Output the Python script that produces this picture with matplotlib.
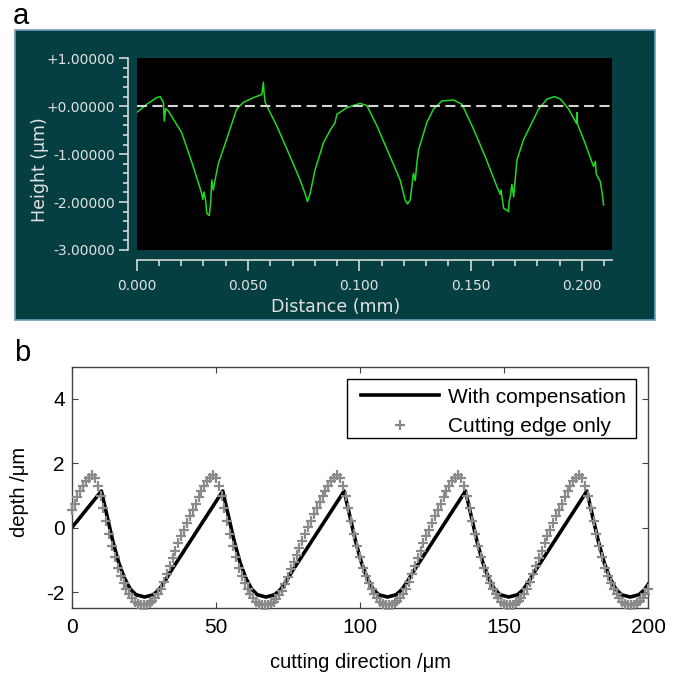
# Surface profile of the machined grating (a) and simulated depth profiles (b)

import numpy as np
import matplotlib
matplotlib.use("Agg")
import matplotlib.pyplot as plt
from matplotlib.patches import Rectangle
from matplotlib.ticker import MultipleLocator, FormatStrFormatter

plt.rcParams['font.family'] = ['Liberation Sans', 'DejaVu Sans']
plt.rcParams['axes.unicode_minus'] = False

# (a) measured profile, distance in mm, height in um
profile_x = [0.0000, 0.0045, 0.0090, 0.0105, 0.0120, 0.0124, 0.0130, 0.0142, 0.0202, 0.0254,
             0.0292, 0.0297, 0.0302, 0.0310, 0.0315, 0.0326, 0.0333, 0.0337, 0.0344, 0.0352,
             0.0367, 0.0404, 0.0449, 0.0479, 0.0524, 0.0554, 0.0562, 0.0569, 0.0572, 0.0577,
             0.0584, 0.0629, 0.0689, 0.0734, 0.0756, 0.0767, 0.0779, 0.0801, 0.0839, 0.0869,
             0.0891, 0.0899, 0.0944, 0.1004, 0.1034, 0.1079, 0.1138, 0.1183, 0.1206, 0.1216,
             0.1228, 0.1243, 0.1251, 0.1258, 0.1266, 0.1303, 0.1333, 0.1371, 0.1423, 0.1461,
             0.1513, 0.1565, 0.1618, 0.1633, 0.1636, 0.1648, 0.1663, 0.1670, 0.1673, 0.1678,
             0.1685, 0.1693, 0.1708, 0.1738, 0.1768, 0.1805, 0.1843, 0.1876, 0.1903, 0.1940,
             0.1975, 0.1977, 0.1980, 0.2007, 0.2052, 0.2060, 0.2064, 0.2082, 0.2090, 0.2097]
profile_h = [-0.13, 0.04, 0.18, 0.20, 0.08, -0.31, -0.05, -0.10, -0.55, -1.26,
             -1.82, -1.95, -1.79, -1.98, -2.24, -2.28, -1.96, -1.54, -1.75, -1.54,
             -1.19, -0.69, -0.06, 0.08, 0.18, 0.23, 0.25, 0.50, 0.28, 0.08,
             0.01, -0.41, -1.05, -1.54, -1.82, -1.99, -1.82, -1.33, -0.76, -0.50,
             -0.34, -0.17, -0.03, 0.06, 0.01, -0.41, -1.05, -1.54, -1.96, -2.04,
             -1.96, -1.40, -1.55, -1.20, -0.91, -0.34, -0.06, 0.11, 0.13, 0.04,
             -0.48, -1.05, -1.68, -1.84, -1.75, -2.13, -2.17, -2.20, -1.97, -1.89,
             -1.63, -1.89, -1.12, -0.69, -0.41, -0.06, 0.15, 0.20, 0.15, -0.06,
             -0.36, -0.13, -0.38, -0.69, -1.26, -1.15, -1.42, -1.57, -1.80, -2.06]

# (b) simulated profile with compensation (vertices of the line)
comp_x = [0.0,
          10.3, 12.3, 14.3, 16.3, 18.3, 20.3, 22.3, 25.3, 28.3, 30.3, 32.3, 34.3,
          52.4, 54.4, 56.4, 58.4, 60.4, 62.4, 64.4, 67.4, 70.4, 72.4, 74.4, 76.4,
          94.5, 96.5, 98.5, 100.5, 102.5, 104.5, 106.5, 109.5, 112.5, 114.5, 116.5, 118.5,
          136.6, 138.6, 140.6, 142.6, 144.6, 146.6, 148.6, 151.6, 154.6, 156.6, 158.6, 160.6,
          178.7, 180.7, 182.7, 184.7, 186.7, 188.7, 190.7, 193.7, 196.7, 198.7, 200.0]
comp_depth = [0.0,
              1.14, 0.35, -0.43, -1.08, -1.56, -1.90, -2.08, -2.15, -2.08, -1.92, -1.66, -1.36,
              1.14, 0.35, -0.43, -1.08, -1.56, -1.90, -2.08, -2.15, -2.08, -1.92, -1.66, -1.36,
              1.14, 0.35, -0.43, -1.08, -1.56, -1.90, -2.08, -2.15, -2.08, -1.92, -1.66, -1.36,
              1.14, 0.35, -0.43, -1.08, -1.56, -1.90, -2.08, -2.15, -2.08, -1.92, -1.66, -1.36,
              1.14, 0.35, -0.43, -1.08, -1.56, -1.90, -2.08, -2.15, -2.08, -1.92, -1.75]

# (b) cutting edge only, one point per micrometre from 0 to 200
edge_depth = [
    0.55, 0.75, 0.95, 1.13, 1.30, 1.44, 1.55,
    1.63, 1.55, 1.30, 0.98, 0.60, 0.20, -0.20, -0.57, -0.92, -1.24, -1.50, -1.72, -1.90, -2.06,
    -2.19, -2.29, -2.36, -2.40, -2.41, -2.39, -2.34, -2.27, -2.17, -2.05, -1.90, -1.68, -1.43,
    -1.18, -0.95, -0.72, -0.48, -0.27, -0.06, 0.15, 0.35, 0.55, 0.75, 0.95, 1.13, 1.30, 1.44, 1.55,
    1.63, 1.55, 1.30, 0.98, 0.60, 0.20, -0.20, -0.57, -0.92, -1.24, -1.50, -1.72, -1.90, -2.06,
    -2.19, -2.29, -2.36, -2.40, -2.41, -2.39, -2.35, -2.29, -2.20, -2.09, -1.95, -1.76, -1.53,
    -1.29, -1.06, -0.84, -0.62, -0.40, -0.19, 0.02, 0.22, 0.42, 0.61, 0.80, 0.98, 1.15, 1.31,
    1.44, 1.54,
    1.63, 1.55, 1.30, 0.98, 0.60, 0.20, -0.20, -0.57, -0.92, -1.24, -1.50, -1.72, -1.90, -2.06,
    -2.19, -2.29, -2.36, -2.40, -2.41, -2.39, -2.34, -2.27, -2.17, -2.05, -1.90, -1.68, -1.43,
    -1.18, -0.95, -0.72, -0.48, -0.27, -0.06, 0.15, 0.35, 0.55, 0.75, 0.95, 1.13, 1.30, 1.44, 1.55,
    1.63, 1.55, 1.30, 0.98, 0.60, 0.20, -0.20, -0.57, -0.92, -1.24, -1.50, -1.72, -1.90, -2.06,
    -2.19, -2.29, -2.36, -2.40, -2.41, -2.39, -2.34, -2.27, -2.17, -2.05, -1.90, -1.68, -1.43,
    -1.18, -0.95, -0.72, -0.48, -0.27, -0.06, 0.15, 0.35, 0.55, 0.75, 0.95, 1.13, 1.30, 1.44, 1.55,
    1.63, 1.55, 1.30, 0.98, 0.60, 0.20, -0.20, -0.57, -0.92, -1.24, -1.50, -1.72, -1.90, -2.06,
    -2.19, -2.29, -2.36, -2.40, -2.41, -2.39, -2.34, -2.27, -2.17, -2.05, -1.90]
edge_x = np.arange(len(edge_depth))

W, H = 675, 678
TEAL = '#053f42'
PALE = '#e2e2e2'


def fx(px):
    return px / W


def fy(py):
    return 1 - py / H


fig = plt.figure(figsize=(W / 100, H / 100), dpi=100)

# ---- panel a: profilometer screen ----
fig.add_artist(Rectangle((fx(15), fy(320)), fx(640), 290 / H, transform=fig.transFigure,
                         facecolor=TEAL, edgecolor='#6c9cbc', lw=1.2, zorder=0))

ax_a = fig.add_axes([fx(136.7), fy(250), fx(475.6), 191.7 / H], facecolor='black')
ax_a.plot(profile_x, profile_h, color='#22d822', lw=1.1)
ax_a.axhline(0, color='#d4d4d4', lw=1.5, dashes=(4.8, 2.6))
ax_a.set_xlim(0, 0.2136)
ax_a.set_ylim(-3, 1)

for side in ['top', 'right']:
    ax_a.spines[side].set_visible(False)
for side, off in [('left', 6), ('bottom', 7.2)]:
    ax_a.spines[side].set_position(('outward', off))
    ax_a.spines[side].set_color('#d8d8d8')
    ax_a.spines[side].set_linewidth(1.2)

ax_a.xaxis.set_major_locator(MultipleLocator(0.05))
ax_a.xaxis.set_minor_locator(MultipleLocator(0.01))
ax_a.yaxis.set_major_locator(MultipleLocator(1))
ax_a.yaxis.set_minor_locator(MultipleLocator(0.2))
ax_a.xaxis.set_major_formatter(FormatStrFormatter('%.3f'))
ax_a.yaxis.set_major_formatter(FormatStrFormatter('%+.5f'))
ax_a.tick_params(axis='both', which='both', direction='out', colors='#d8d8d8',
                 labelcolor=PALE, width=1.2)
ax_a.tick_params(axis='x', which='major', length=8, pad=6)
ax_a.tick_params(axis='x', which='minor', length=4)
ax_a.tick_params(axis='y', which='major', length=6.5, pad=3)
ax_a.tick_params(axis='y', which='minor', length=3.5)
for lab in ax_a.get_xticklabels() + ax_a.get_yticklabels():
    lab.set_family('DejaVu Sans')
    lab.set_fontsize(10)

fig.text(fx(336), fy(307), 'Distance (mm)', ha='center', va='center', color=PALE,
         fontsize=12.5, family='DejaVu Sans')
fig.text(fx(40), fy(170), 'Height (μm)', ha='center', va='center', color=PALE,
         fontsize=12.5, family='DejaVu Sans', rotation=90)
fig.text(fx(13), fy(16), 'a', ha='left', va='center', fontsize=21)

# ---- panel b: simulated depth profiles ----
ax_b = fig.add_axes([fx(71.7), fy(608.3), fx(576.6), 241.6 / H])
ax_b.plot(comp_x, comp_depth, color='black', lw=2.6, label='With compensation', zorder=2)
ax_b.plot(edge_x, edge_depth, ls='none', marker='+', ms=6.5, mew=1.6, color='#8a8a8a',
          label='Cutting edge only', zorder=3, clip_on=False)
ax_b.set_xlim(0, 200)
ax_b.set_ylim(-2.5, 5)
ax_b.set_xticks([0, 50, 100, 150, 200])
ax_b.set_yticks([-2, 0, 2, 4])
ax_b.tick_params(direction='in', top=True, right=True, length=4, width=0.8,
                 labelsize=15, color='#444444')
ax_b.tick_params(axis='x', pad=7)
ax_b.tick_params(axis='y', pad=5)
for sp in ax_b.spines.values():
    sp.set_color('#444444')
    sp.set_linewidth(1.0)

# legend box drawn separately so its padding can differ per side
ax_b.add_patch(Rectangle((fx(347), fy(438)), fx(289), 59 / H, transform=fig.transFigure,
                         facecolor='white', edgecolor='black', lw=1.0, zorder=4,
                         clip_on=False))
ax_b.legend(loc='upper right', bbox_to_anchor=(0.9787, 0.957), borderaxespad=0,
            fontsize=15, numpoints=1, handlelength=3.75, handletextpad=0.4,
            labelspacing=0.5, borderpad=0.5, frameon=False)

fig.text(fx(360), fy(663), 'cutting direction /μm', ha='center', va='center', fontsize=14.5)
fig.text(fx(19.5), fy(492), 'depth /μm', ha='center', va='center', fontsize=14.5, rotation=90)
fig.text(fx(14), fy(353), 'b', ha='left', va='center', fontsize=21)

fig.savefig('out.png', dpi=100)
